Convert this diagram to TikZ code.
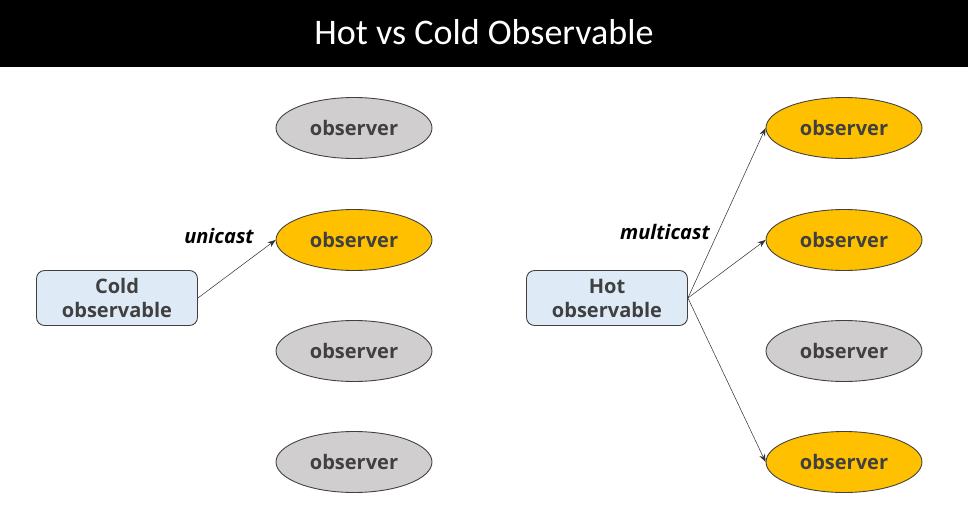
\documentclass[tikz,border=0pt]{standalone}
\usepackage{fontspec}
\setmainfont{Open Sans}
\newfontfamily\titlefont{Carlito}
\usetikzlibrary{positioning, arrows.meta, shapes.geometric}
\definecolor{obsorange}{HTML}{FFC000}
\definecolor{obsgray}{HTML}{D0CECE}
\definecolor{srcblue}{HTML}{DEEBF7}
\definecolor{txtgray}{HTML}{404040}

\begin{document}
\begin{tikzpicture}[x=0.02cm, y=-0.02cm,
    observer/.style={ellipse, draw=txtgray, line width=0.5pt, inner sep=0pt,
        minimum width=3.12cm, minimum height=1.22cm, text=txtgray,
        font=\bfseries\fontsize{11.4}{13}\selectfont},
    source/.style={rectangle, rounded corners=0.16cm, draw=txtgray, line width=0.5pt,
        fill=srcblue, minimum width=3.22cm, minimum height=1.1cm, align=center,
        text=txtgray, font=\bfseries\fontsize{11.4}{13.6}\selectfont},
    conn/.style={draw=black!80, line width=0.3pt, -{Stealth[length=1.6mm, width=1.2mm]}},
    castlabel/.style={font=\bfseries\itshape\fontsize{11.4}{13}\selectfont}]
    \useasboundingbox (0,0) rectangle (968,518);       % page size
    \fill [black] (0,0) rectangle (968,67);            % title bar
    \node [text=white, font=\titlefont\fontsize{20.5}{24}\selectfont] (title) at (484,32) {Hot vs Cold Observable};

    % cold side
    \node [observer, fill=obsgray] (cold1) at (354,128) {observer};
    \node [observer, fill=obsorange] (cold2) at (354,240) {observer};
    \node [observer, fill=obsgray] (cold3) at (354,351) {observer};
    \node [observer, fill=obsgray] (cold4) at (354,462) {observer};
    \node [source] (cold) at (117,298) {Cold\\observable};
    \draw [conn] (cold.east) -- (cold2.west);          % single subscriber
    \node [castlabel] (unicast) at (219,236) {unicast};

    % hot side
    \node [observer, fill=obsorange] (hot1) at (844,128) {observer};
    \node [observer, fill=obsorange] (hot2) at (844,240) {observer};
    \node [observer, fill=obsgray] (hot3) at (844,351) {observer};
    \node [observer, fill=obsorange] (hot4) at (844,462) {observer};
    \node [source] (hot) at (607,298) {Hot\\observable};
    \foreach \n in {hot1,hot2,hot4}
        \draw [conn] (hot.east) -- (\n.west);          % shared subscribers
    \node [castlabel] (multicast) at (665,232) {multicast};
\end{tikzpicture}
\end{document}
